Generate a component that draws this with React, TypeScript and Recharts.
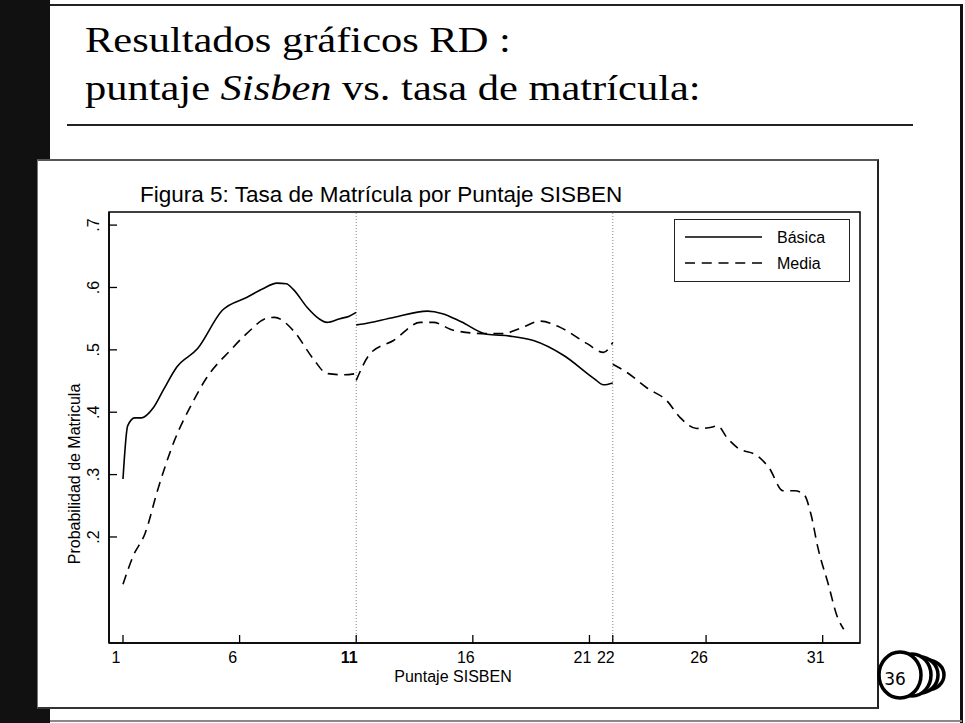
import React from 'react';
import { LineChart, Line, XAxis, YAxis, ReferenceLine, ReferenceArea, Legend } from 'recharts';

// Puntaje SISBEN (x) vs probabilidad de matrícula (y)
const basicaIzq = [
  [1, 0.293], [1.2, 0.378], [1.5, 0.391], [1.8, 0.391], [2.3, 0.407], [2.75, 0.437],
  [3.3, 0.472], [4.2, 0.502], [5.25, 0.563], [6.3, 0.584], [7.0, 0.598], [7.6, 0.607],
  [8.0, 0.606], [8.3, 0.597], [8.9, 0.568], [9.4, 0.550], [9.75, 0.544], [10.3, 0.550],
  [10.7, 0.554], [11, 0.560],
];
const basicaDer = [
  [11, 0.540], [11.2, 0.541], [12.6, 0.552], [14.05, 0.562], [14.7, 0.558], [15.5, 0.545],
  [16.6, 0.525], [17.6, 0.522], [18.6, 0.515], [19.9, 0.491], [21.2, 0.454], [21.6, 0.444],
  [22, 0.447],
];
const mediaIzq = [
  [1, 0.124], [1.43, 0.169], [1.95, 0.206], [2.5, 0.277], [3.2, 0.354], [3.96, 0.414],
  [4.6, 0.456], [5.6, 0.499], [6.3, 0.526], [7.2, 0.551], [7.5, 0.552], [8.3, 0.531],
  [9.15, 0.486], [9.75, 0.462], [10.45, 0.460], [11, 0.462],
];
const mediaCentro = [
  [11, 0.451], [11.6, 0.494], [12.6, 0.515], [13.75, 0.544], [14.3, 0.544], [15.2, 0.531],
  [16.6, 0.526], [17.3, 0.526], [18.0, 0.534], [18.9, 0.546], [19.75, 0.536], [20.9, 0.510],
  [21.6, 0.496], [22, 0.512],
];
const mediaDer = [
  [22, 0.477], [22.6, 0.464], [23.5, 0.438], [24.3, 0.419], [24.9, 0.391], [25.6, 0.374],
  [26.1, 0.375], [26.5, 0.378], [26.9, 0.359], [27.35, 0.343], [28.2, 0.330], [28.7, 0.311],
  [29.3, 0.274], [29.8, 0.274], [30.2, 0.268], [30.5, 0.236], [30.8, 0.182], [31.25, 0.123],
  [31.6, 0.075], [31.9, 0.052],
];

const xTicks = [1, 6, 11, 16, 21, 22, 26, 31];
const yTicks = [0.2, 0.3, 0.4, 0.5, 0.6, 0.7];
const xDomain = [0.4, 32.6];
const yDomain = [0.03, 0.721];
const cortes = [11, 22];
const legendItems = [
  { name: 'Básica', dash: undefined as string | undefined },
  { name: 'Media', dash: '10 6.75' },
];

const toRows = (pts: number[][]) => pts.map(([x, y]) => ({ x, y }));

const SANS = '"Liberation Sans", Arial, sans-serif';
const SERIF = '"Liberation Serif", "Times New Roman", serif';
const DASH = '10 6.5';

const XTick = (props: any) => {
  const { x, y, payload } = props;
  return (
    <g>
      <line x1={x} x2={x} y1={y} y2={y - 8} stroke="#000" strokeWidth={1.3} />
      <text
        x={x - 7}
        y={y + 20}
        textAnchor="middle"
        fontFamily={SANS}
        fontSize={16}
        fontWeight={payload.value === 11 ? 700 : 400}
        fill="#000"
      >
        {payload.value}
      </text>
    </g>
  );
};

const YTick = (props: any) => {
  const { x, y, payload } = props;
  const label = String(payload.value).replace(/^0/, '');
  const tx = x - 10;
  return (
    <g>
      <line x1={x} x2={x + 8} y1={y} y2={y} stroke="#000" strokeWidth={1.3} />
      <text
        x={tx}
        y={y}
        transform={`rotate(-90, ${tx}, ${y})`}
        textAnchor="middle"
        fontFamily={SANS}
        fontSize={16}
        fill="#000"
      >
        {label}
      </text>
    </g>
  );
};

const YLabel = () => (
  <text
    x={80}
    y={474}
    transform="rotate(-90, 80, 474)"
    textAnchor="middle"
    fontFamily={SANS}
    fontSize={16}
    fill="#000"
  >
    Probabilidad de Matricula
  </text>
);

const XLabel = () => (
  <text x={453} y={682} textAnchor="middle" fontFamily={SANS} fontSize={16} fill="#000">
    Puntaje SISBEN
  </text>
);

const LegendBox = () => (
  <div
    style={{
      width: 176,
      height: 63,
      boxSizing: 'border-box',
      border: '1.5px solid #222',
      background: '#fff',
      position: 'relative',
    }}
  >
    <svg width={174} height={60} style={{ position: 'absolute', left: 0, top: 0 }}>
      {legendItems.map((it, i) => (
        <g key={it.name}>
          <line
            x1={10}
            x2={87}
            y1={17 + i * 26}
            y2={17 + i * 26}
            stroke="#000"
            strokeWidth={1.5}
            strokeDasharray={it.dash}
          />
          <text x={102} y={23 + i * 26} fontFamily={SANS} fontSize={16} fill="#000">
            {it.name}
          </text>
        </g>
      ))}
    </svg>
  </div>
);

export default function App() {
  return (
    <div
      style={{
        position: 'absolute',
        left: 0,
        top: 0,
        width: 965,
        height: 723,
        background: '#fff',
        overflow: 'hidden',
      }}
    >
      {/* slide frame */}
      <div style={{ position: 'absolute', left: 0, top: 0, width: 50, height: 723, background: '#111' }} />
      <div style={{ position: 'absolute', left: 50, top: 4, width: 913, height: 2, background: '#222' }} />
      <div style={{ position: 'absolute', left: 960, top: 4, width: 3, height: 719, background: '#111' }} />
      <div style={{ position: 'absolute', left: 50, top: 720, width: 912, height: 2, background: '#888' }} />
      <div style={{ position: 'absolute', left: 67, top: 124, width: 846, height: 2, background: '#222' }} />
      {/* chart box */}
      <div
        style={{
          position: 'absolute',
          left: 37,
          top: 159,
          width: 842,
          height: 550,
          boxSizing: 'border-box',
          background: '#fff',
          borderTop: '2px solid #555',
          borderLeft: '1px solid #777',
          borderRight: '2px solid #222',
          borderBottom: '2px solid #333',
        }}
      />
      <div style={{ position: 'absolute', left: 0, top: 0 }}>
        <LineChart width={965} height={723} margin={{ top: 212, right: 105, bottom: 0, left: 0 }}>
          <XAxis
            type="number"
            dataKey="x"
            domain={xDomain}
            allowDataOverflow
            ticks={xTicks}
            interval={0}
            height={80}
            tickSize={0}
            tickMargin={0}
            tickLine={false}
            tick={<XTick />}
            axisLine={{ stroke: '#000', strokeWidth: 1.5 }}
            label={<XLabel />}
          />
          <YAxis
            type="number"
            domain={yDomain}
            allowDataOverflow
            ticks={yTicks}
            interval={0}
            width={109}
            tickSize={0}
            tickMargin={0}
            tickLine={false}
            tick={<YTick />}
            axisLine={{ stroke: '#000', strokeWidth: 1.5 }}
            label={<YLabel />}
          />
          <ReferenceArea
            x1={xDomain[0]}
            x2={xDomain[1]}
            y1={yDomain[0]}
            y2={yDomain[1]}
            fill="none"
            fillOpacity={0}
            stroke="#000"
            strokeWidth={1.5}
            ifOverflow="visible"
          />
          {cortes.map((c) => (
            <ReferenceLine key={c} x={c} stroke="#888" strokeWidth={1} strokeDasharray="1 2" />
          ))}
          <Line data={toRows(basicaIzq)} dataKey="y" name="Básica" type="monotone" stroke="#000" strokeWidth={1.6} dot={false} isAnimationActive={false} />
          <Line data={toRows(basicaDer)} dataKey="y" name="Básica 2" type="monotone" stroke="#000" strokeWidth={1.6} dot={false} legendType="none" isAnimationActive={false} />
          <Line data={toRows(mediaIzq)} dataKey="y" name="Media" type="monotone" stroke="#000" strokeWidth={1.6} strokeDasharray={DASH} dot={false} isAnimationActive={false} />
          <Line data={toRows(mediaCentro)} dataKey="y" name="Media 2" type="monotone" stroke="#000" strokeWidth={1.6} strokeDasharray={DASH} dot={false} legendType="none" isAnimationActive={false} />
          <Line data={toRows(mediaDer)} dataKey="y" name="Media 3" type="monotone" stroke="#000" strokeWidth={1.6} strokeDasharray={DASH} dot={false} legendType="none" isAnimationActive={false} />
          <Legend
            layout="vertical"
            align="center"
            verticalAlign="middle"
            content={<LegendBox />}
            wrapperStyle={{ position: 'absolute', left: 674, top: 219, width: 176, height: 63 }}
          />
        </LineChart>
      </div>
      {/* titles and logo */}
      <svg width={965} height={723} style={{ position: 'absolute', left: 0, top: 0, pointerEvents: 'none' }}>
        <g transform="translate(85,52) scale(1.18,1)">
          <text x={0} y={0} fontFamily={SERIF} fontSize={36} fill="#000">
            Resultados gráficos RD :
          </text>
        </g>
        <g transform="translate(85,100) scale(1.18,1)">
          <text x={0} y={0} fontFamily={SERIF} fontSize={36} fill="#000">
            puntaje <tspan fontStyle="italic">Sisben</tspan> vs. tasa de matrícula:
          </text>
        </g>
        <text x={140} y={202} fontFamily={SANS} fontSize={22.5} fill="#000">
          Figura 5: Tasa de Matrícula por Puntaje SISBEN
        </text>
        <g stroke="#000" strokeWidth={3.5} fill="#fff">
          <ellipse cx={927} cy={675} rx={17} ry={15} />
          <ellipse cx={920} cy={675} rx={18} ry={18} />
          <ellipse cx={912} cy={675} rx={19} ry={21} />
          <ellipse cx={900} cy={675} rx={21} ry={23} />
        </g>
        <text x={895} y={685} textAnchor="middle" fontFamily='"DejaVu Sans", sans-serif' fontSize={17} fill="#000">
          36
        </text>
      </svg>
    </div>
  );
}
